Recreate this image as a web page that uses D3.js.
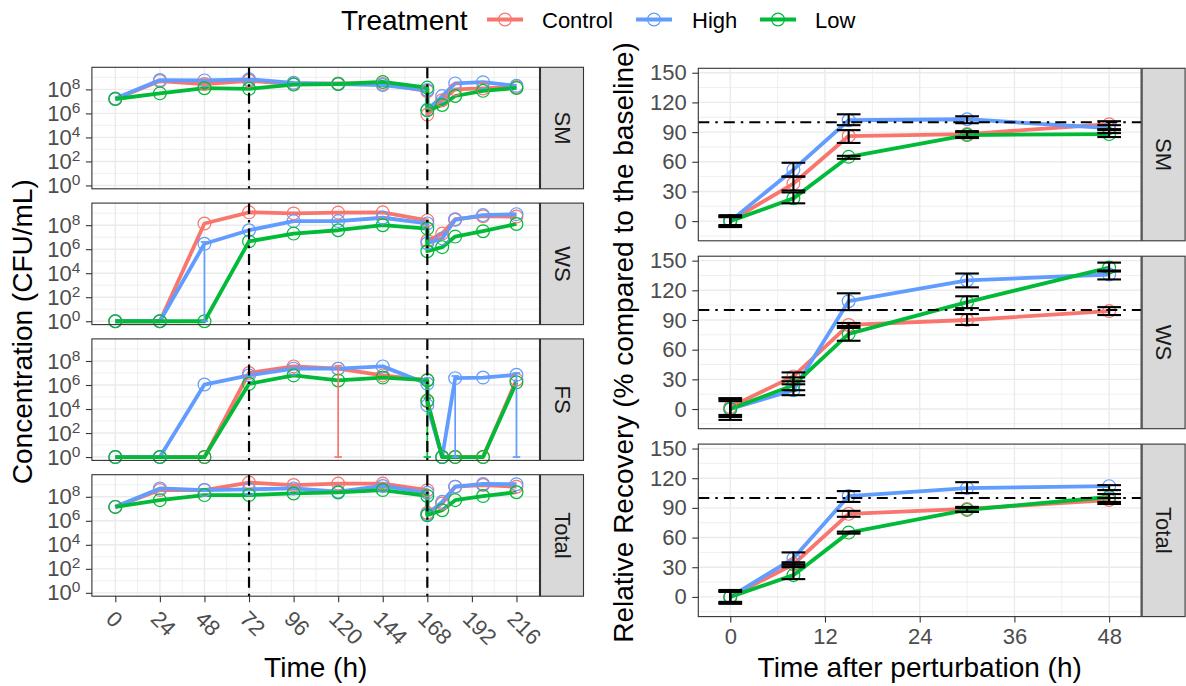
<!DOCTYPE html>
<html><head><meta charset="utf-8">
<script src="https://cdn.jsdelivr.net/npm/d3@7"></script>
<style>body{margin:0;background:#fff}svg{display:block}</style>
</head><body><svg id="chart" width="1186" height="686"></svg>
<script>
// ---------------- DATA ----------------
const treatments = ["Control", "High", "Low"];
const colors = ["#F8766D", "#619CFF", "#00BA38"];

// Left: concentration (log10 CFU/mL) over time
const leftFacets = ["SM", "WS", "FS", "Total"];
const leftTimes = [0, 24, 48, 72, 96, 120, 144, 168, 168, 176, 183, 198, 216];
const leftXTicks = [0, 24, 48, 72, 96, 120, 144, 168, 192, 216];
const leftYTicks = [0, 2, 4, 6, 8];
const perturbTimes = [72, 168];

const smControl = [7.2, 8.7, 8.45, 8.72, 8.45, 8.5, 8.45, 7.85, 5.9, 7.1, 8.0, 8.08, 8.2];
const smHigh    = [7.25, 8.78, 8.75, 8.84, 8.55, 8.45, 8.36, 7.95, 6.3, 7.44, 8.5, 8.6, 8.3];
const smLow     = [7.2, 7.67, 8.1, 8.05, 8.4, 8.45, 8.62, 8.15, 6.25, 6.7, 7.45, 7.88, 8.12];

const wsControl = [0, 0, 8.14, 9.07, 8.98, 9.05, 9.07, 8.4, 6.7, 7.3, 8.5, 8.75, 8.72];
const wsHigh    = [0, 0, 6.45, 7.58, 8.34, 8.34, 8.62, 8.15, 6.5, 6.9, 8.45, 8.84, 8.92];
const wsLow     = [0, 0, 0, 6.65, 7.3, 7.58, 8.0, 7.72, 5.83, 6.17, 7.05, 7.5, 8.1];

const fsControl = [0, 0, 0, 7.0, 7.55, 7.36, 6.8, 6.4, 4.64, 0, 0, 0, 6.44];
const fsHigh    = [0, 0, 6.04, 6.8, 7.36, 7.36, 7.55, 6.1, 4.3, 0, 6.57, 6.62, 6.85];
const fsLow     = [0, 0, 0, 6.1, 6.8, 6.38, 6.62, 6.4, 4.7, 0, 0, 0, 6.22];

const totControl = [7.16, 8.56, 8.56, 9.18, 8.98, 9.1, 9.1, 8.55, 6.65, 7.44, 8.84, 8.98, 8.84];
const totHigh    = [7.16, 8.7, 8.56, 8.62, 8.7, 8.42, 8.9, 8.33, 6.54, 7.58, 8.84, 9.07, 9.05];
const totLow     = [7.16, 7.72, 8.14, 8.14, 8.28, 8.36, 8.56, 8.07, 6.46, 6.88, 7.72, 8.06, 8.38];

// visible error bars on the left (log10 units)
const errFacet = ["WS", "FS", "FS", "FS", "FS"];
const errGroup = ["High", "Control", "High", "High", "Low"];
const errTime  = [48, 120, 183, 216, 168];
const errLow   = [0, 0, 0, 0, 0];
const errHigh  = [6.6, 7.6, 6.75, 7.0, 4.9];

// Right: relative recovery (%)
const rightFacets = ["SM", "WS", "Total"];
const rightTimes = [0, 8, 15, 30, 48];
const rightXTicks = [0, 12, 24, 36, 48];
const rightYTicks = [0, 30, 60, 90, 120, 150];
const baseline = 100;

const rSmControl = [0, 38, 86, 88, 98];
const rSmHigh    = [0, 52, 102, 103, 94];
const rSmLow     = [0, 23, 65, 87, 88];
const rSmControlLo = [-5, 31, 79, 85, 93],  rSmControlHi = [5, 45, 92, 91, 101];
const rSmHighLo    = [-6, 45, 97, 99, 89],  rSmHighHi    = [6, 59, 108, 106, 97];
const rSmLowLo     = [-4, 18, 63, 84, 85],  rSmLowHi     = [4, 29, 66, 90, 92];

const rWsControl = [2, 33, 85, 90, 99];
const rWsHigh    = [0, 19, 109, 130, 136];
const rWsLow     = [0, 24, 76, 108, 143];
const rWsControlLo = [-6, 28, 82, 85, 95],   rWsControlHi = [11, 37, 87, 96, 103];
const rWsHighLo    = [-11, 14, 100, 123, 131], rWsHighHi  = [8, 25, 117, 137, 140];
const rWsLowLo     = [-8, 19, 69, 102, 139],  rWsLowHi    = [10, 32, 84, 114, 148];

const rTotControl = [0, 33, 84, 89, 98];
const rTotHigh    = [0, 39, 102, 110, 112];
const rTotLow     = [0, 22, 65, 88, 101];
const rTotControlLo = [-6, 30, 81, 86, 94],  rTotControlHi = [6, 35, 87, 91, 100];
const rTotHighLo    = [-7, 33, 96, 105, 108], rTotHighHi   = [7, 45, 107, 116, 113];
const rTotLowLo     = [-5, 18, 64, 86, 96],  rTotLowHi     = [5, 31, 66, 90, 104];

// ---------------- BUILD ----------------
const leftData = {
  SM: [smControl, smHigh, smLow],
  WS: [wsControl, wsHigh, wsLow],
  FS: [fsControl, fsHigh, fsLow],
  Total: [totControl, totHigh, totLow]
};
const rightData = {
  SM: { v: [rSmControl, rSmHigh, rSmLow], lo: [rSmControlLo, rSmHighLo, rSmLowLo], hi: [rSmControlHi, rSmHighHi, rSmLowHi] },
  WS: { v: [rWsControl, rWsHigh, rWsLow], lo: [rWsControlLo, rWsHighLo, rWsLowLo], hi: [rWsControlHi, rWsHighHi, rWsLowHi] },
  Total: { v: [rTotControl, rTotHigh, rTotLow], lo: [rTotControlLo, rTotHighLo, rTotLowLo], hi: [rTotControlHi, rTotHighHi, rTotLowHi] }
};

const FONT = '"Liberation Sans", Arial, Helvetica, sans-serif';
const svg = d3.select("#chart").style("font-family", FONT);
svg.append("rect").attr("width", 1186).attr("height", 686).attr("fill", "#fff");

const GRID = "#EBEBEB", BORDER = "#333333", TICKTXT = "#4D4D4D";
const STRIP_W = 43, TICK = 6, PAD = 5.5;
const LINE_W = 3.8, PT_R = 6.4, PT_W = 1.2, ERR_W = 2.1;

function gridLines(g, xs, ys, xScale, yScale, x0, x1, y0, y1, w) {
  g.selectAll(null).data(xs).join("line")
    .attr("x1", d => xScale(d)).attr("x2", d => xScale(d)).attr("y1", y0).attr("y2", y1)
    .attr("stroke", GRID).attr("stroke-width", w);
  g.selectAll(null).data(ys).join("line")
    .attr("y1", d => yScale(d)).attr("y2", d => yScale(d)).attr("x1", x0).attr("x2", x1)
    .attr("stroke", GRID).attr("stroke-width", w);
}
function styleAxis(ag) {
  ag.select(".domain").remove();
  ag.selectAll(".tick line").attr("stroke", BORDER).attr("stroke-width", 1.1);
  ag.selectAll(".tick text").attr("fill", TICKTXT).attr("font-size", 22).attr("font-family", FONT);
}
function strip(g, x, top, h, label) {
  g.append("rect").attr("x", x).attr("y", top).attr("width", STRIP_W).attr("height", h)
    .attr("fill", "#D9D9D9").attr("stroke", BORDER).attr("stroke-width", 1.1);
  g.append("text").attr("transform", `translate(${x + STRIP_W / 2},${top + h / 2}) rotate(90)`)
    .attr("text-anchor", "middle").attr("dominant-baseline", "central")
    .attr("font-size", 22).attr("fill", "#1A1A1A").text(label);
}

// ---- LEFT ----
const LX0 = 91.9, LX1 = 539.5, LH = 121.5, LSTEP = 135.8, LTOP0 = 67.3;
const xL = d3.scaleLinear().domain([-12.6, 228.4]).range([LX0, LX1]);
const leftXMinor = d3.range(12, 216, 24);
const leftYMinor = [1, 3, 5, 7, 9];
const line = d3.line();

leftFacets.forEach((f, i) => {
  const top = LTOP0 + i * LSTEP, bot = top + LH;
  const y = d3.scaleLinear().domain([-0.28, 9.84]).range([bot, top]);
  const g = svg.append("g");
  g.append("rect").attr("x", LX0).attr("y", top).attr("width", LX1 - LX0).attr("height", LH).attr("fill", "#fff");
  gridLines(g, leftXMinor, leftYMinor, xL, y, LX0, LX1, top, bot, 0.8);
  gridLines(g, leftXTicks, leftYTicks, xL, y, LX0, LX1, top, bot, 1.4);

  const series = leftData[f];
  series.forEach((vals, k) => {
    const pts = leftTimes.map((t, j) => [xL(t), y(vals[j])]);
    g.append("path").attr("d", line(pts)).attr("fill", "none")
      .attr("stroke", colors[k]).attr("stroke-width", LINE_W).attr("stroke-linejoin", "round");
  });
  series.forEach((vals, k) => {
    g.selectAll(null).data(leftTimes.map((t, j) => [t, vals[j]])).join("circle")
      .attr("cx", d => xL(d[0])).attr("cy", d => y(d[1])).attr("r", PT_R)
      .attr("fill", "none").attr("stroke", colors[k]).attr("stroke-width", PT_W);
  });
  errFacet.forEach((ef, j) => {
    if (ef !== f) return;
    const c = colors[treatments.indexOf(errGroup[j])];
    const xc = xL(errTime[j]);
    const hw = (xL(2) - xL(0));
    g.append("line").attr("x1", xc).attr("x2", xc).attr("y1", y(errLow[j])).attr("y2", y(errHigh[j]))
      .attr("stroke", c).attr("stroke-width", 1.7);
    [errLow[j], errHigh[j]].forEach(v => g.append("line").attr("x1", xc - hw).attr("x2", xc + hw)
      .attr("y1", y(v)).attr("y2", y(v)).attr("stroke", c).attr("stroke-width", 1.7));
  });
  perturbTimes.forEach(t => g.append("line").attr("x1", xL(t)).attr("x2", xL(t)).attr("y1", top).attr("y2", bot)
    .attr("stroke", "#000").attr("stroke-width", 2.2).attr("stroke-dasharray", "11 6 2.5 6"));

  g.append("rect").attr("x", LX0).attr("y", top).attr("width", LX1 - LX0).attr("height", LH)
    .attr("fill", "none").attr("stroke", BORDER).attr("stroke-width", 1.1);
  strip(g, LX1 + 1, top, LH, f);

  const ay = g.append("g").attr("transform", `translate(${LX0},0)`)
    .call(d3.axisLeft(y).tickValues(leftYTicks).tickSize(TICK).tickPadding(PAD).tickFormat(() => ""));
  styleAxis(ay);
  ay.selectAll(".tick text").each(function (d) {
    const t = d3.select(this);
    t.append("tspan").text("10");
    t.append("tspan").attr("dy", -8).attr("font-size", 15.5).text(d);
  });

  if (i === leftFacets.length - 1) {
    const ax = g.append("g").attr("transform", `translate(0,${bot})`)
      .call(d3.axisBottom(xL).tickValues(leftXTicks).tickSize(TICK).tickFormat(d3.format("d")));
    styleAxis(ax);
    ax.selectAll(".tick text").attr("x", 0).attr("y", 0).attr("dy", null)
      .attr("text-anchor", "start").attr("transform", "translate(-11,24) rotate(45)");
    g.append("text").attr("x", (LX0 + LX1) / 2).attr("y", 677).attr("text-anchor", "middle")
      .attr("font-size", 28).attr("fill", "#000").text("Time (h)");
  }
});
svg.append("text").attr("transform", `translate(32,${(LTOP0 + LTOP0 + 3 * LSTEP + LH) / 2}) rotate(-90)`)
  .attr("text-anchor", "middle").attr("font-size", 28).attr("fill", "#000").text("Concentration (CFU/mL)");

// ---- RIGHT ----
const RX0 = 698.3, RX1 = 1141.1, RH = 172.5, RSTEP = 187.9, RTOP0 = 68.3;
const xR = d3.scaleLinear().domain([-4.05, 52.05]).range([RX0, RX1]);
const rightXMinor = [6, 18, 30, 42];
const rightYMinor = [-15, 15, 45, 75, 105, 135];

rightFacets.forEach((f, i) => {
  const top = RTOP0 + i * RSTEP, bot = top + RH;
  const y = d3.scaleLinear().domain([-19.9, 154.5]).range([bot, top]);
  const g = svg.append("g");
  g.append("rect").attr("x", RX0).attr("y", top).attr("width", RX1 - RX0).attr("height", RH).attr("fill", "#fff");
  gridLines(g, rightXMinor, rightYMinor, xR, y, RX0, RX1, top, bot, 0.8);
  gridLines(g, rightXTicks, rightYTicks, xR, y, RX0, RX1, top, bot, 1.4);

  const D = rightData[f];
  D.v.forEach((vals, k) => {
    const pts = rightTimes.map((t, j) => [xR(t), y(vals[j])]);
    g.append("path").attr("d", line(pts)).attr("fill", "none")
      .attr("stroke", colors[k]).attr("stroke-width", LINE_W).attr("stroke-linejoin", "round");
  });
  D.v.forEach((vals, k) => {
    g.selectAll(null).data(rightTimes.map((t, j) => [t, vals[j]])).join("circle")
      .attr("cx", d => xR(d[0])).attr("cy", d => y(d[1])).attr("r", PT_R)
      .attr("fill", "none").attr("stroke", colors[k]).attr("stroke-width", PT_W);
  });
  g.append("line").attr("x1", RX0).attr("x2", RX1).attr("y1", y(baseline)).attr("y2", y(baseline))
    .attr("stroke", "#000").attr("stroke-width", 2).attr("stroke-dasharray", "11 6 2.5 6");
  D.v.forEach((vals, k) => {
    rightTimes.forEach((t, j) => {
      const lo = D.lo[k][j], hi = D.hi[k][j];
      const xc = xR(t), xa = xR(t - 1.5), xb = xR(t + 1.5);
      g.append("line").attr("x1", xc).attr("x2", xc).attr("y1", y(lo)).attr("y2", y(hi)).attr("stroke", "#000").attr("stroke-width", ERR_W);
      [lo, hi].forEach(v => g.append("line").attr("x1", xa).attr("x2", xb).attr("y1", y(v)).attr("y2", y(v))
        .attr("stroke", "#000").attr("stroke-width", ERR_W));
    });
  });
  g.append("rect").attr("x", RX0).attr("y", top).attr("width", RX1 - RX0).attr("height", RH)
    .attr("fill", "none").attr("stroke", BORDER).attr("stroke-width", 1.1);
  strip(g, RX1 + 1, top, RH, f);

  const ay = g.append("g").attr("transform", `translate(${RX0},0)`)
    .call(d3.axisLeft(y).tickValues(rightYTicks).tickSize(TICK).tickPadding(PAD).tickFormat(d3.format("d")));
  styleAxis(ay);
  if (i === rightFacets.length - 1) {
    const ax = g.append("g").attr("transform", `translate(0,${bot})`)
      .call(d3.axisBottom(xR).tickValues(rightXTicks).tickSize(TICK).tickPadding(PAD).tickFormat(d3.format("d")));
    styleAxis(ax);
    g.append("text").attr("x", (RX0 + RX1) / 2).attr("y", 677).attr("text-anchor", "middle")
      .attr("font-size", 28).attr("fill", "#000").text("Time after perturbation (h)");
  }
});
svg.append("text").attr("transform", `translate(633,${(RTOP0 + RTOP0 + 2 * RSTEP + RH) / 2}) rotate(-90)`)
  .attr("text-anchor", "middle").attr("font-size", 28).attr("fill", "#000").text("Relative Recovery (% compared to the baseline)");

// ---- LEGEND ----
const lg = svg.append("g");
lg.append("text").attr("x", 341).attr("y", 29.5).attr("font-size", 28).attr("fill", "#000").text("Treatment");
const keyX = [487, 636, 760], labX = [542, 692, 815];
treatments.forEach((t, k) => {
  lg.append("line").attr("x1", keyX[k]).attr("x2", keyX[k] + 36).attr("y1", 19.5).attr("y2", 19.5)
    .attr("stroke", colors[k]).attr("stroke-width", LINE_W);
  lg.append("circle").attr("cx", keyX[k] + 18).attr("cy", 19.5).attr("r", PT_R)
    .attr("fill", "none").attr("stroke", colors[k]).attr("stroke-width", PT_W);
  lg.append("text").attr("x", labX[k]).attr("y", 27.5).attr("font-size", 22).attr("fill", "#000").text(t);
});
</script></body></html>
